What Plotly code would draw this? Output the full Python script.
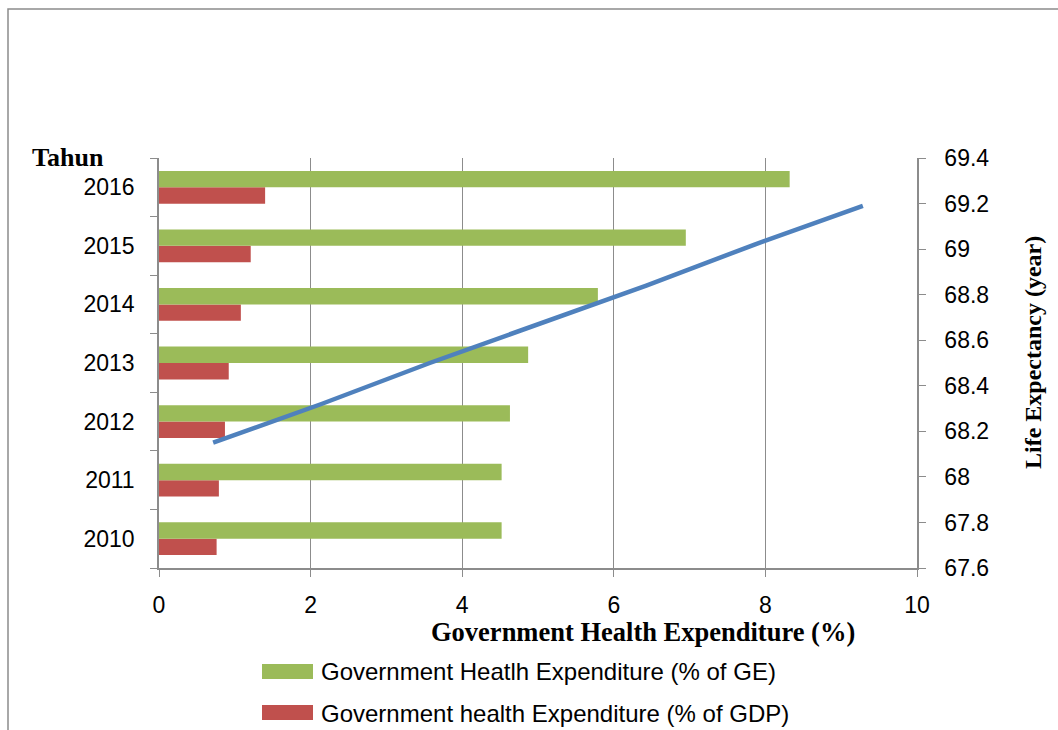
import plotly.graph_objects as go

years = ["2010", "2011", "2012", "2013", "2014", "2015", "2016"]
ghe_pct_ge = [4.52, 4.52, 4.63, 4.87, 5.79, 6.95, 8.32]
ghe_pct_gdp = [0.76, 0.79, 0.87, 0.92, 1.08, 1.21, 1.40]
life_exp = [68.15, 68.32, 68.50, 68.67, 68.84, 69.02, 69.19]

x_ticks = [0, 2, 4, 6, 8, 10]
y2_ticks = [67.6, 67.8, 68.0, 68.2, 68.4, 68.6, 68.8, 69.0, 69.2, 69.4]
y2_labels = ["67.6", "67.8", "68", "68.2", "68.4", "68.6", "68.8", "69", "69.2", "69.4"]

name_ge = "Government Heatlh Expenditure (% of GE)"
name_gdp = "Government health Expenditure (% of GDP)"

GREEN = "#9BBB59"
RED = "#C0504D"
BLUE = "#4F81BD"
GRID = "#8C8C8C"
SANS = "Liberation Sans, Arial, sans-serif"
SERIF = "Liberation Serif, Times New Roman, serif"

W, H = 1058, 730
L, R, T, B = 159, 917, 158, 568


def px(x):
    return (x - L) / (R - L)


def py(y):
    return (B - y) / (B - T)


fig = go.Figure()
fig.add_trace(go.Bar(y=years, x=ghe_pct_gdp, orientation="h", name=name_gdp,
                     marker=dict(color=RED, line=dict(width=0)), showlegend=False))
fig.add_trace(go.Bar(y=years, x=ghe_pct_ge, orientation="h", name=name_ge,
                     marker=dict(color=GREEN, line=dict(width=0)), showlegend=False))
fig.add_trace(go.Scatter(x=years, y=life_exp, xaxis="x2", yaxis="y2", mode="lines",
                         name="Life Expectancy", line=dict(color=BLUE, width=4.5),
                         showlegend=False))

fig.update_layout(
    width=W, height=H,
    margin=dict(l=L, r=W - R, t=T, b=H - B),
    paper_bgcolor="white", plot_bgcolor="rgba(0,0,0,0)",
    barmode="group", bargap=0.44, bargroupgap=0,
    font=dict(family=SANS, size=23, color="black"),
    xaxis=dict(range=[0, 10], tickvals=x_ticks, showgrid=True, gridcolor=GRID, gridwidth=1,
               showline=True, linecolor=GRID, linewidth=1.5, ticks="outside", ticklen=7,
               tickcolor=GRID, zeroline=False, ticklabelstandoff=9,
               tickfont=dict(family=SANS, size=23)),
    yaxis=dict(type="category", categoryorder="array", categoryarray=years,
               range=[-0.5, 6.5], showline=True, linecolor=GRID, linewidth=1.5,
               ticks="outside", ticklen=7, tickcolor=GRID, tickson="boundaries",
               showgrid=False, ticklabelstandoff=18, tickfont=dict(family=SANS, size=23)),
    xaxis2=dict(type="category", categoryorder="array", categoryarray=years,
                range=[-0.5, 6.5], overlaying="x", visible=False),
    yaxis2=dict(range=[67.6, 69.4], tickvals=y2_ticks, ticktext=y2_labels, overlaying="y",
                side="right", anchor="x2", showline=True, linecolor=GRID, linewidth=1.5,
                ticks="outside", ticklen=7, tickcolor=GRID, showgrid=False, zeroline=False,
                ticklabelstandoff=14, tickfont=dict(family=SANS, size=23)),
)

annotations = [
    dict(text="<b>Tahun</b>", x=px(30), y=py(157), xanchor="left", yanchor="middle",
         font=dict(family=SERIF, size=26)),
    dict(text="<b>Government Health Expenditure (%)</b>", x=px(643), y=py(632),
         xanchor="center", yanchor="middle", font=dict(family=SERIF, size=26.5)),
    dict(text="<b>Life Expectancy (year)</b>", x=px(1033), y=py(353), textangle=-90,
         xanchor="center", yanchor="middle", font=dict(family=SERIF, size=24)),
    dict(text=name_ge, x=px(319), y=py(671), xanchor="left", yanchor="middle",
         font=dict(family=SANS, size=24)),
    dict(text=name_gdp, x=px(319), y=py(713), xanchor="left", yanchor="middle",
         font=dict(family=SANS, size=24)),
]
for a in annotations:
    a.update(xref="paper", yref="paper", showarrow=False)
fig.update_layout(annotations=annotations)

shapes = [
    dict(type="rect", x0=px(262), x1=px(313), y0=py(679), y1=py(664),
         fillcolor=GREEN, line=dict(width=0)),
    dict(type="rect", x0=px(262), x1=px(313), y0=py(720), y1=py(705),
         fillcolor=RED, line=dict(width=0)),
    dict(type="rect", x0=px(8), x1=px(1070), y0=py(745), y1=py(9),
         fillcolor="rgba(0,0,0,0)", line=dict(color="#8C8C8C", width=1.5)),
]
for s in shapes:
    s.update(xref="paper", yref="paper", layer="above")
fig.update_layout(shapes=shapes)

fig.write_html("out.html", config={"displayModeBar": False},
               post_script="document.body.style.margin='0';document.body.style.overflow='hidden';")
